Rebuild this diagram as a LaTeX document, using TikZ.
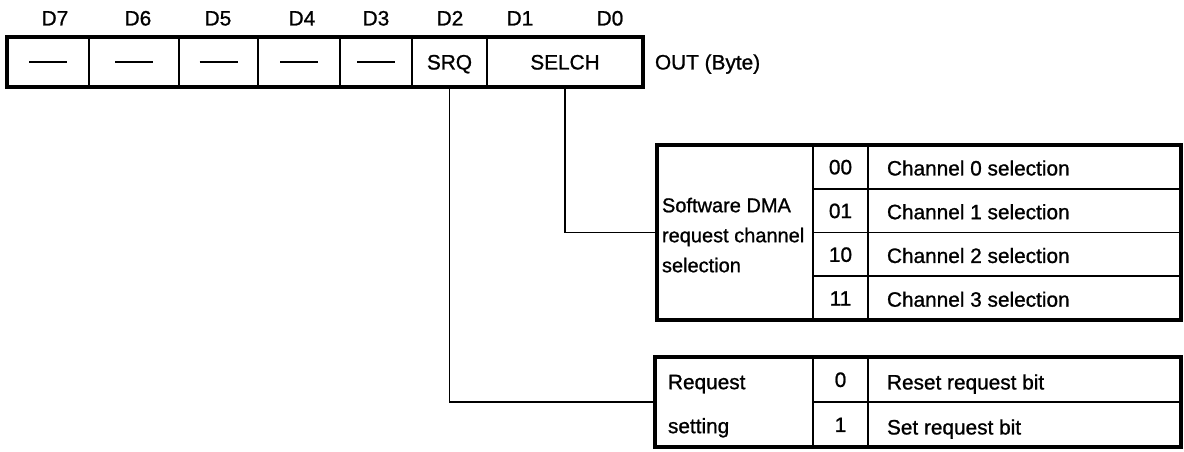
\documentclass[tikz,border=0pt]{standalone}
\usepackage{fontspec}
\setmainfont[FakeBold=1]{Liberation Sans}
\begin{document}
\begin{tikzpicture}[x=0.5pt,y=-0.5pt,
  cell/.style={draw, line width=0.9pt, inner sep=0pt, outer sep=0pt,
    text height=7.45pt, text depth=0pt, font=\fontsize{10.4}{12}\selectfont},
  frame/.style={draw, line width=1.6pt},
  txt/.style={inner sep=0pt, outer sep=0pt, text height=7.45pt, text depth=0pt,
    font=\fontsize{10.4}{12}\selectfont},
  wire/.style={line width=0.9pt}]
\useasboundingbox (0,0) rectangle (1184,451);

% bit labels
\node[txt] (b7) at (55,18) {D7};
\node[txt] (b6) at (138,18) {D6};
\node[txt] (b5) at (218,18) {D5};
\node[txt] (b4) at (302,18) {D4};
\node[txt] (b3) at (376,18) {D3};
\node[txt] (b2) at (450,18) {D2};
\node[txt] (b1) at (520,18) {D1};
\node[txt] (b0) at (610,18) {D0};

% register cells
\newcommand{\regdash}{\rule[3.2pt]{19pt}{1pt}}
\node[cell, minimum width=41pt, minimum height=25pt] (c7) at (48,62) {\regdash};
\node[cell, minimum width=45pt, minimum height=25pt] (c6) at (134,62) {\regdash};
\node[cell, minimum width=39.5pt, minimum height=25pt] (c5) at (218.5,62) {\regdash};
\node[cell, minimum width=41pt, minimum height=25pt] (c4) at (299,62) {\regdash};
\node[cell, minimum width=36pt, minimum height=25pt] (c3) at (376,62) {\regdash};
\node[cell, minimum width=37.5pt, minimum height=25pt] (srq) at (449.5,62) {SRQ};
\node[cell, minimum width=78pt, minimum height=25pt] (selch) at (565,62) {SELCH};
\draw[frame] (c7.north west) rectangle (selch.south east);
\node[txt, anchor=west] (out) at (655,62) {OUT (Byte)};

% upper table  x 657-813-868-1181, y 145-320
\node[cell, minimum width=78pt, minimum height=87.5pt] (sel) at (735,232.5) {};
\node[txt, anchor=west, align=left, text height=, font=\fontsize{10}{15}\selectfont]
  (seltxt) at (662,235) {Software DMA\\request channel\\selection};
\foreach \i/\c/\d in {0/00/Channel 0 selection,1/01/Channel 1 selection,
                      2/10/Channel 2 selection,3/11/Channel 3 selection}{
  \node[cell, minimum width=27.5pt, minimum height=21.875pt] (code\i)
    at (840.5,{166.875+43.75*\i}) {\c};
  \node[cell, minimum width=156.5pt, minimum height=21.875pt] (desc\i)
    at (1024.5,{166.875+43.75*\i}) {};
  \node[txt, anchor=west] (dtxt\i) at (887,{168+43.75*\i}) {\d};
}
\draw[frame] (sel.north west) rectangle (desc3.south east);

% lower table  x 655-813-868-1181, y 357-447
\node[cell, minimum width=79pt, minimum height=45pt] (req) at (734,402) {};
\node[txt, anchor=west, align=left, text height=, font=\fontsize{10.4}{22}\selectfont]
  (reqtxt) at (668,404) {Request\\setting};
\node[cell, minimum width=27.5pt, minimum height=22.5pt] (rc0) at (840.5,379.5) {0};
\node[cell, minimum width=27.5pt, minimum height=22.5pt] (rc1) at (840.5,424.5) {1};
\node[cell, minimum width=156.5pt, minimum height=22.5pt] (rd0) at (1024.5,379.5) {};
\node[cell, minimum width=156.5pt, minimum height=22.5pt] (rd1) at (1024.5,424.5) {};
\node[txt, anchor=west] (rt0) at (887,382) {Reset request bit};
\node[txt, anchor=west] (rt1) at (887,427) {Set request bit};
\draw[frame] (req.north west) rectangle (rd1.south east);

% connectors
\draw[wire] (selch.south) |- (sel.west);
\draw[wire] (srq.south) |- (req.west);
\end{tikzpicture}
\end{document}
